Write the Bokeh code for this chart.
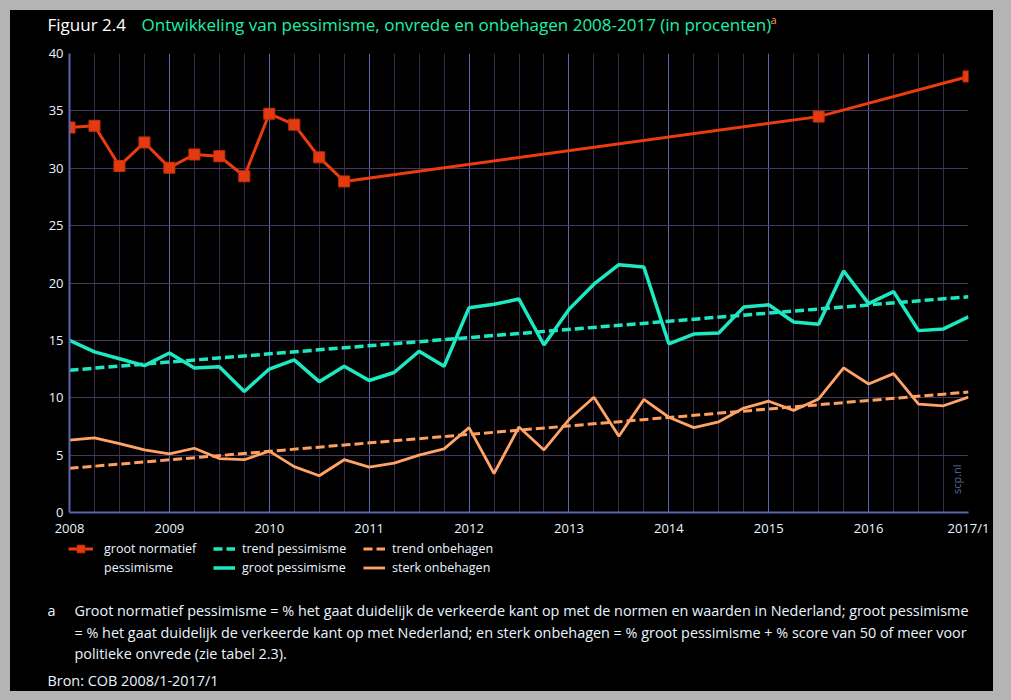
import math
from bokeh.plotting import figure
from bokeh.layouts import column
from bokeh.models import (Range1d, Legend, LegendItem, Label, FixedTicker)
from bokeh.embed import file_html
from bokeh.resources import INLINE

# ---------------- data ----------------
quarters = [2008 + i * 0.25 for i in range(37)]  # 2008/1 .. 2017/1

groot_pessimisme = [15.0, 14.0, 13.4, 12.8, 13.9, 12.6, 12.7, 10.55, 12.5, 13.3, 11.4, 12.75,
                    11.5, 12.2, 14.05, 12.75, 17.85, 18.15, 18.6, 14.6, 17.7, 19.9, 21.6, 21.4,
                    14.7, 15.55, 15.65, 17.9, 18.1, 16.6, 16.4, 21.05, 18.2, 19.25, 15.85, 16.0, 17.05]

sterk_onbehagen = [6.3, 6.5, 6.0, 5.45, 5.1, 5.6, 4.7, 4.6, 5.35, 4.0, 3.2, 4.6,
                   3.95, 4.3, 5.0, 5.55, 7.4, 3.4, 7.45, 5.45, 8.1, 10.05, 6.65, 9.85,
                   8.3, 7.4, 7.9, 9.1, 9.7, 8.9, 9.9, 12.6, 11.2, 12.1, 9.45, 9.3, 10.05]

normatief_x = [2008.0, 2008.25, 2008.5, 2008.75, 2009.0, 2009.25, 2009.5, 2009.75,
               2010.0, 2010.25, 2010.5, 2010.75, 2015.5, 2017.0]
groot_normatief = [33.55, 33.7, 30.2, 32.25, 30.05, 31.2, 31.05, 29.3,
                   34.75, 33.8, 30.95, 28.85, 34.5, 38.0]

trend_x = [2008.0, 2017.0]
trend_pessimisme = [12.4, 18.8]
trend_onbehagen = [3.85, 10.5]

year_ticks = [2008, 2009, 2010, 2011, 2012, 2013, 2014, 2015, 2016, 2017]
year_labels = ["2008", "2009", "2010", "2011", "2012", "2013", "2014", "2015", "2016", "2017/1"]
y_ticks = [0, 5, 10, 15, 20, 25, 30, 35, 40]

title_prefix = "Figuur 2.4"
title_text = "Ontwikkeling van pessimisme, onvrede en onbehagen 2008-2017 (in procenten)"
note_lines = [
    "Groot normatief pessimisme = % het gaat duidelijk de verkeerde kant op met de normen en waarden in Nederland; groot pessimisme",
    "= % het gaat duidelijk de verkeerde kant op met Nederland; en sterk onbehagen = % groot pessimisme + % score van 50 of meer voor",
    "politieke onvrede (zie tabel 2.3).",
]
source_text = "Bron: COB 2008/1-2017/1"

# ---------------- styling ----------------
FONT = "Open Sans"
RED = "#ec3c0e"
CYAN = "#1ee8c2"
ORANGE = "#ffa466"
ORANGE_D = "#ffa060"
TXT = "#eaf4ff"
BLUE_LINE = "#5a66b0"
PURPLE_GRID = "#45355f"
PURPLE_MINOR = "#3a2a4c"
W = 983


def blank_fig(h):
    f = figure(width=W, height=h, output_backend="svg", toolbar_location=None,
               x_range=Range1d(0, W), y_range=Range1d(0, h),
               x_axis_location=None, y_axis_location=None, frame_align=False,
               min_border_left=0, min_border_right=0, min_border_top=0, min_border_bottom=0,
               background_fill_color="black", border_fill_color="black")
    f.outline_line_color = None
    f.xgrid.visible = False
    f.ygrid.visible = False
    return f


def lab(f, x, y, text, color=TXT, size="14.4px"):
    f.add_layout(Label(x=x, y=y, x_units="screen", y_units="screen", text=text,
                       text_font=FONT, text_font_size=size, text_color=color,
                       text_baseline="middle", text_align="left"))


# ---------------- header ----------------
H_HEAD = 33
head = blank_fig(H_HEAD)
lab(head, 37, H_HEAD - 14, title_prefix, "#ffffff", "17px")
lab(head, 131, H_HEAD - 14, title_text, "#1ef0a8", "17px")
lab(head, 760, H_HEAD - 9, "a", "#ff9a70", "11px")

# ---------------- main plot ----------------
p = figure(width=W, height=496, output_backend="svg", toolbar_location=None,
           x_range=Range1d(2008, 2017), y_range=Range1d(0, 40), frame_align=False,
           min_border_left=59, min_border_right=25, min_border_top=10, min_border_bottom=24,
           background_fill_color="black", border_fill_color="black")
p.outline_line_color = None

p.xaxis.ticker = FixedTicker(ticks=year_ticks, minor_ticks=quarters)
p.xaxis.major_label_overrides = {t: l for t, l in zip(year_ticks, year_labels)}
p.yaxis.ticker = FixedTicker(ticks=y_ticks)
for ax in (p.xaxis[0], p.yaxis[0]):
    ax.axis_line_color = BLUE_LINE
    ax.axis_line_width = 2
    ax.major_tick_line_color = None
    ax.minor_tick_line_color = None
    ax.major_tick_out = 0
    ax.minor_tick_out = 0
    ax.major_label_text_color = TXT
    ax.major_label_text_font = FONT
    ax.major_label_text_font_size = "13px"
    ax.major_label_standoff = 6

p.xgrid.grid_line_color = BLUE_LINE
p.xgrid.minor_grid_line_color = PURPLE_MINOR
p.ygrid.grid_line_color = PURPLE_GRID

STY_GP = dict(line_color=CYAN, line_width=3.5)
STY_SO = dict(line_color=ORANGE, line_width=2.8)
STY_TP = dict(line_color=CYAN, line_width=3.5, line_dash="9 4")
STY_TO = dict(line_color=ORANGE_D, line_width=3, line_dash="9 4")
STY_GN = dict(line_color=RED, line_width=3)
STY_GN_M = dict(marker="square", size=11, fill_color="#e43a10", line_color="#c8300a", line_width=1)

p.line(quarters, groot_pessimisme, **STY_GP)
p.line(quarters, sterk_onbehagen, **STY_SO)
p.line(trend_x, trend_pessimisme, **STY_TP)
p.line(trend_x, trend_onbehagen, **STY_TO)
p.line(normatief_x, groot_normatief, **STY_GN)
p.scatter(normatief_x, groot_normatief, **STY_GN_M)

p.add_layout(Label(x=2016.88, y=2.9, text="scp.nl", angle=math.pi / 2, text_font=FONT,
                   text_font_size="11px", text_color="#5a6aa0", text_align="center",
                   text_baseline="middle"))

# ---------------- footer (legend + notes) ----------------
H_FOOT = 152
foot = blank_fig(H_FOOT)
# legend proxies (hidden copies of the series, only used to draw the legend keys)
k_gn = foot.line(normatief_x, groot_normatief, visible=False, **STY_GN)
k_gn_m = foot.scatter(normatief_x, groot_normatief, visible=False, **STY_GN_M)
k_blank = foot.line(normatief_x, groot_normatief, visible=False, line_alpha=0)
k_tp = foot.line(trend_x, trend_pessimisme, visible=False, **STY_TP)
k_gp = foot.line(quarters, groot_pessimisme, visible=False, **STY_GP)
k_to = foot.line(trend_x, trend_onbehagen, visible=False, **STY_TO)
k_so = foot.line(quarters, sterk_onbehagen, visible=False, **STY_SO)


def make_legend(items, x, gw, standoff):
    lg = Legend(items=items, location=(x, H_FOOT - 38), orientation="vertical",
                background_fill_alpha=0, border_line_alpha=0,
                padding=0, margin=0, spacing=0,
                inactive_fill_alpha=0,
                label_text_color=TXT, label_text_font=FONT, label_text_font_size="12.5px",
                label_height=19, glyph_height=19, glyph_width=gw, label_standoff=standoff)
    foot.add_layout(lg)


make_legend([LegendItem(label="groot normatief", renderers=[k_gn, k_gn_m]),
             LegendItem(label="pessimisme", renderers=[k_blank])], 58, 25, 11)
make_legend([LegendItem(label="trend pessimisme", renderers=[k_tp]),
             LegendItem(label="groot pessimisme", renderers=[k_gp])], 203, 22, 7)
make_legend([LegendItem(label="trend onbehagen", renderers=[k_to]),
             LegendItem(label="sterk onbehagen", renderers=[k_so])], 353, 22, 7)

lab(foot, 37, H_FOOT - 71, "a")
for line, yy in zip(note_lines, [71, 93, 114]):
    lab(foot, 64, H_FOOT - yy, line)
lab(foot, 37, H_FOOT - 141, source_text)

layout = column(head, p, foot, spacing=0,
                styles={"margin": "10px 0 0 10px", "background-color": "black",
                        "box-shadow": "0 0 0 20px #b4b4b4"})

open("out.html", "w").write(file_html(layout, INLINE))
